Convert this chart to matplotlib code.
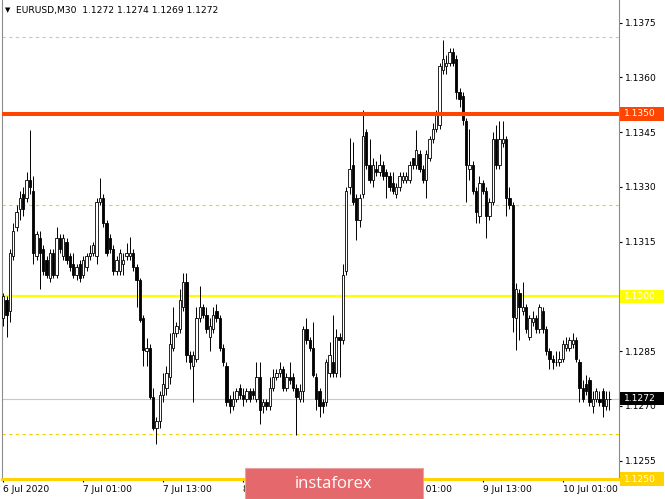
import matplotlib
matplotlib.use('Agg')
import matplotlib.pyplot as plt
import numpy as np
from matplotlib.patches import Rectangle

plt.rcParams['font.family'] = 'DejaVu Sans'

# EURUSD M30 candles
opens = [
    1.1294, 1.1299, 1.1296, 1.1311, 1.1319, 1.1324, 1.1328, 1.1327, 1.1332, 1.1329,
    1.1311, 1.1316, 1.1313, 1.1310, 1.1305, 1.1312, 1.1306, 1.1316, 1.1311, 1.1315,
    1.1311, 1.1309, 1.1306, 1.1309, 1.1306, 1.1308, 1.1311, 1.1312, 1.1311, 1.1326,
    1.1327, 1.1320, 1.1316, 1.1313, 1.1307, 1.1307, 1.1309, 1.1311, 1.1311, 1.1312,
    1.1308, 1.13045, 1.1294, 1.1285, 1.1286, 1.12725, 1.1264, 1.1266, 1.1273, 1.1275,
    1.1278, 1.1286, 1.1290, 1.1291, 1.1297, 1.1304, 1.1284, 1.1281, 1.1283, 1.1294,
    1.1297, 1.1295, 1.1289, 1.1291, 1.1296, 1.1294, 1.1286, 1.1281, 1.1272, 1.1270,
    1.1272, 1.1275, 1.1273, 1.1272, 1.1274, 1.1274, 1.1272, 1.1278, 1.1270, 1.1271,
    1.1270, 1.1275, 1.1278, 1.1279, 1.1280, 1.1275, 1.1278, 1.1278, 1.1275, 1.1272,
    1.1274, 1.1291, 1.1288, 1.1286, 1.1278, 1.1274, 1.1271, 1.1271, 1.1279, 1.1282,
    1.1279, 1.1289, 1.1288, 1.1307, 1.1330, 1.1336, 1.1327, 1.1321, 1.1328, 1.1345,
    1.1336, 1.1332, 1.1335, 1.1334, 1.1336, 1.1334, 1.1333, 1.1331, 1.1328, 1.1330,
    1.1332, 1.1332, 1.1332, 1.1338, 1.1336, 1.1339, 1.1335, 1.1332, 1.1338, 1.1343,
    1.1346, 1.1347, 1.1362, 1.1363, 1.1364, 1.1367, 1.1365, 1.1356, 1.1355, 1.1348,
    1.1335, 1.1336, 1.1329, 1.1322, 1.1331, 1.1329, 1.1322, 1.1326, 1.1343, 1.1336,
    1.1342, 1.1343, 1.1327, 1.1325, 1.1294, 1.1301, 1.1296, 1.1297, 1.1289, 1.1293,
    1.1294, 1.1291, 1.1296, 1.1291, 1.1285, 1.1283, 1.1282, 1.1282, 1.1283, 1.1286,
    1.1286, 1.1287, 1.1288, 1.1282, 1.1275, 1.1276, 1.1277, 1.1270, 1.1272, 1.1272,
    1.1274, 1.1270, 1.1272]
highs = [
    1.1301, 1.1300, 1.1313, 1.1320, 1.1325, 1.1329, 1.1330, 1.1334, 1.13456, 1.1333,
    1.1318, 1.1318, 1.1314, 1.1311, 1.1313, 1.1313, 1.1319, 1.1317, 1.1317, 1.1316,
    1.1312, 1.1312, 1.1309, 1.1310, 1.1311, 1.1312, 1.1314, 1.1315, 1.1327, 1.13325,
    1.1328, 1.1321, 1.1317, 1.1314, 1.1311, 1.1313, 1.1312, 1.13147, 1.13163, 1.1313,
    1.1309, 1.1305, 1.1295, 1.12885, 1.1287, 1.1275, 1.1267, 1.1274, 1.1279, 1.1281,
    1.1290, 1.1297, 1.1293, 1.1302, 1.13064, 1.13064, 1.1285, 1.1285, 1.1297, 1.1303,
    1.1298, 1.1297, 1.1294, 1.1297, 1.1298, 1.1295, 1.1287, 1.1282, 1.1273, 1.1274,
    1.1275, 1.1276, 1.1275, 1.1275, 1.1275, 1.1275, 1.1282, 1.1282, 1.1272, 1.1272,
    1.1278, 1.1280, 1.1280, 1.1282, 1.1281, 1.1279, 1.1282, 1.1279, 1.1276, 1.1276,
    1.1292, 1.1294, 1.1289, 1.1293, 1.1279, 1.1275, 1.1272, 1.1283, 1.12875, 1.1295,
    1.1291, 1.1290, 1.1309, 1.1330, 1.13434, 1.13423, 1.1328, 1.1328, 1.13511, 1.1346,
    1.1343, 1.1338, 1.1337, 1.1339, 1.1337, 1.1335, 1.1334, 1.1334, 1.1331, 1.1334,
    1.1334, 1.1334, 1.1337, 1.1338, 1.13456, 1.1340, 1.1336, 1.1340, 1.1344, 1.13474,
    1.1351, 1.1364, 1.13703, 1.1366, 1.1368, 1.1368, 1.1366, 1.1357, 1.1356, 1.1349,
    1.1346, 1.1337, 1.1330, 1.1333, 1.1332, 1.1330, 1.1327, 1.1345, 1.1347, 1.1348,
    1.1348, 1.1344, 1.1330, 1.1326, 1.13037, 1.1302, 1.1304, 1.1298, 1.1295, 1.1296,
    1.1295, 1.1298, 1.1297, 1.1292, 1.1286, 1.1284, 1.1285, 1.1285, 1.1288, 1.1289,
    1.1289, 1.1290, 1.1289, 1.1283, 1.1277, 1.12785, 1.1278, 1.1274, 1.1275, 1.1274,
    1.1275, 1.1274, 1.1274]
lows = [
    1.1292, 1.1289, 1.1293, 1.1310, 1.1318, 1.1321, 1.1322, 1.1326, 1.1328, 1.1309,
    1.1310, 1.1302, 1.1306, 1.1305, 1.1304, 1.1305, 1.1305, 1.1312, 1.1310, 1.1309,
    1.1307, 1.1305, 1.13045, 1.1304, 1.1305, 1.1307, 1.1310, 1.1311, 1.1309, 1.1325,
    1.1319, 1.1311, 1.1312, 1.1306, 1.1306, 1.1306, 1.1306, 1.1310, 1.1310, 1.1307,
    1.1297, 1.1293, 1.1281, 1.1281, 1.1272, 1.12634, 1.12595, 1.1264, 1.1271, 1.1273,
    1.1276, 1.1285, 1.1289, 1.1290, 1.1296, 1.1282, 1.1280, 1.1271, 1.1282, 1.1293,
    1.1294, 1.1290, 1.1285, 1.1290, 1.1293, 1.1285, 1.1281, 1.1270, 1.1268, 1.1269,
    1.1271, 1.1272, 1.1270, 1.1271, 1.1271, 1.1272, 1.1271, 1.1265, 1.1268, 1.1269,
    1.1269, 1.1274, 1.1277, 1.1278, 1.1274, 1.1274, 1.1276, 1.1274, 1.1262, 1.1271,
    1.1271, 1.1287, 1.1285, 1.1278, 1.12689, 1.1267, 1.1268, 1.1270, 1.1278, 1.1278,
    1.1278, 1.1278, 1.1287, 1.1306, 1.1328, 1.1325, 1.13155, 1.1319, 1.1327, 1.1335,
    1.1331, 1.1330, 1.1333, 1.1333, 1.1332, 1.1327, 1.1329, 1.1328, 1.1327, 1.1329,
    1.1331, 1.1331, 1.1331, 1.1335, 1.1335, 1.1334, 1.1331, 1.1327, 1.1337, 1.1342,
    1.1345, 1.1346, 1.1361, 1.1361, 1.1363, 1.1363, 1.1354, 1.1352, 1.1347, 1.1326,
    1.1332, 1.1328, 1.1320, 1.1320, 1.1328, 1.1316, 1.1321, 1.1325, 1.1335, 1.1335,
    1.1341, 1.1322, 1.1324, 1.12903, 1.12853, 1.1288, 1.1295, 1.1290, 1.1288, 1.1292,
    1.1290, 1.1290, 1.1290, 1.1284, 1.1280, 1.1280, 1.1281, 1.1281, 1.1282, 1.1285,
    1.1285, 1.1286, 1.1282, 1.1271, 1.1271, 1.1273, 1.1270, 1.1268, 1.1271, 1.1270,
    1.1267, 1.1269, 1.1269]
closes = [
    1.1300, 1.1295, 1.1312, 1.1318, 1.1323, 1.1327, 1.1324, 1.1332, 1.1330, 1.1312,
    1.1317, 1.1312, 1.1307, 1.1306, 1.1312, 1.1306, 1.1316, 1.1313, 1.1316, 1.1310,
    1.1308, 1.1306, 1.1308, 1.1305, 1.1310, 1.1311, 1.1312, 1.1314, 1.1326, 1.1327,
    1.1320, 1.1312, 1.1313, 1.1307, 1.1310, 1.1312, 1.1310, 1.1312, 1.1312, 1.1308,
    1.13045, 1.12936, 1.12853, 1.1286, 1.12725, 1.1264, 1.1266, 1.1273, 1.1276, 1.1279,
    1.1287, 1.1290, 1.1292, 1.1299, 1.1304, 1.1284, 1.1282, 1.1284, 1.1294, 1.1297,
    1.1295, 1.1291, 1.1292, 1.1295, 1.1294, 1.1286, 1.1282, 1.1271, 1.1270, 1.1272,
    1.1274, 1.1273, 1.1272, 1.1274, 1.1272, 1.1273, 1.1278, 1.1269, 1.1271, 1.1270,
    1.1275, 1.1278, 1.1279, 1.1280, 1.1275, 1.1278, 1.1277, 1.1275, 1.12725, 1.1274,
    1.1291, 1.1288, 1.1286, 1.12785, 1.1272, 1.1270, 1.1270, 1.1282, 1.1284, 1.1279,
    1.1289, 1.1288, 1.1306, 1.1329, 1.1335, 1.1326, 1.1321, 1.1327, 1.1344, 1.1336,
    1.1332, 1.1336, 1.1334, 1.1336, 1.1333, 1.1333, 1.1330, 1.1329, 1.1330, 1.1333,
    1.1333, 1.1333, 1.1336, 1.1336, 1.1340, 1.1335, 1.1332, 1.1339, 1.1343, 1.1346,
    1.1350, 1.1363, 1.1365, 1.1364, 1.1367, 1.1364, 1.1356, 1.1354, 1.13483, 1.1336,
    1.1336, 1.1329, 1.1323, 1.1331, 1.1329, 1.1322, 1.1326, 1.1343, 1.1336, 1.1343,
    1.1343, 1.1327, 1.1325, 1.12944, 1.1302, 1.1297, 1.1297, 1.1291, 1.1294, 1.1294,
    1.1291, 1.1297, 1.1291, 1.1285, 1.1283, 1.1282, 1.1282, 1.1283, 1.1287, 1.1287,
    1.1288, 1.1288, 1.1283, 1.1275, 1.1272, 1.1274, 1.1271, 1.1272, 1.1274, 1.1271,
    1.1270, 1.1272, 1.1272]

date_labels = ['6 Jul 2020', '7 Jul 01:00', '7 Jul 13:00', '8 Jul 01:00',
               '8 Jul 13:00', '9 Jul 01:00', '9 Jul 13:00', '10 Jul 01:00']
price_ticks = [1.1255, 1.1270, 1.1285, 1.1300, 1.1315, 1.1330, 1.1345, 1.1360, 1.1375]

# horizontal levels drawn on the chart
resistance = 1.1350
support = 1.1300
bottom_level = 1.1250
dashed_levels = [1.1325, 1.12622]
top_dotted = 1.13710
last_price = 1.1272

o = np.array(opens)
h = np.array(highs)
l = np.array(lows)
c = np.array(closes)
x = np.arange(len(c))
up = c >= o

fig = plt.figure(figsize=(6.65, 4.99), dpi=100)
ax = fig.add_axes([2 / 665, 20 / 499, 617 / 665, 479 / 499])

# level lines
ax.axhline(top_dotted, color='#C8C8C8', lw=0.8, ls=(0, (3, 3)), zorder=1)
for lvl in dashed_levels:
    ax.axhline(lvl, color='#F5D300', lw=0.8, ls=(0, (3, 3)), zorder=1)
ax.axhline(last_price, color='#C8C8C8', lw=0.8, zorder=1)
ax.axhline(support, color='#FFFF00', lw=1.6, zorder=1)
ax.axhline(resistance, color='#FF4500', lw=2.9, zorder=5)
ax.axhline(bottom_level, color='#FFD200', lw=2.2, zorder=6, clip_on=False)

# candles
ax.vlines(x, l, h, color='black', lw=0.7, zorder=3)
ax.bar(x[up], c[up] - o[up], bottom=o[up], width=0.7, color='white',
       edgecolor='black', linewidth=0.6, zorder=4)
ax.bar(x[~up], c[~up] - o[~up], bottom=o[~up], width=0.7, color='black',
       edgecolor='black', linewidth=0.6, zorder=4)

ax.set_xlim(-0.4, 184.9)
ax.set_ylim(1.1250, 1.13812)

# right price scale
ax.yaxis.tick_right()
ax.set_yticks(price_ticks)
ax.set_yticklabels([f'{p:.4f}' for p in price_ticks])
ax.tick_params(axis='y', length=2, pad=2, labelsize=6.6, colors='black')

# time scale
ax.set_xticks([24 * k for k in range(len(date_labels))])
ax.set_xticklabels(date_labels, ha='left')
ax.tick_params(axis='x', length=2, pad=2, labelsize=6.6, colors='black')

for side in ['left', 'right', 'bottom']:
    ax.spines[side].set_color('#8C8C8C')
ax.spines['top'].set_visible(False)
ax.set_facecolor('white')


def price_box(y, text, bg):
    tr = ax.get_yaxis_transform()
    ax.add_patch(Rectangle((1.0016, y - 0.000185), 0.072, 0.00037, transform=tr,
                           facecolor=bg, edgecolor='none', clip_on=False, zorder=10))
    ax.text(1.0016 + 4 / 617, y, text, transform=tr, color='white', fontsize=6.6,
            va='center', ha='left', zorder=11, clip_on=False)


price_box(resistance, '1.1350', '#FF4500')
price_box(support, '1.1300', '#FFFF00')
price_box(last_price, '1.1272', '#000000')
price_box(bottom_level, '1.1250', '#FFD200')

# header
fig.text(5 / 665, 1 - 10 / 499, '\u25bc', fontsize=5, va='center')
fig.text(16 / 665, 1 - 10 / 499, 'EURUSD,M30  1.1272 1.1274 1.1269 1.1272',
         fontsize=6.6, va='center')

# watermark logo
fig.add_artist(Rectangle((245 / 665, 0), 178 / 665, 31 / 499, transform=fig.transFigure,
                         facecolor='#E4686C', edgecolor='#E9A0A2', lw=0.8, zorder=20))
fig.text(334 / 665, 15 / 499, 'instaforex', color='white', fontsize=12,
         family='Open Sans', ha='center', va='center', zorder=21)

fig.savefig('out.png', dpi=100, facecolor='white')
